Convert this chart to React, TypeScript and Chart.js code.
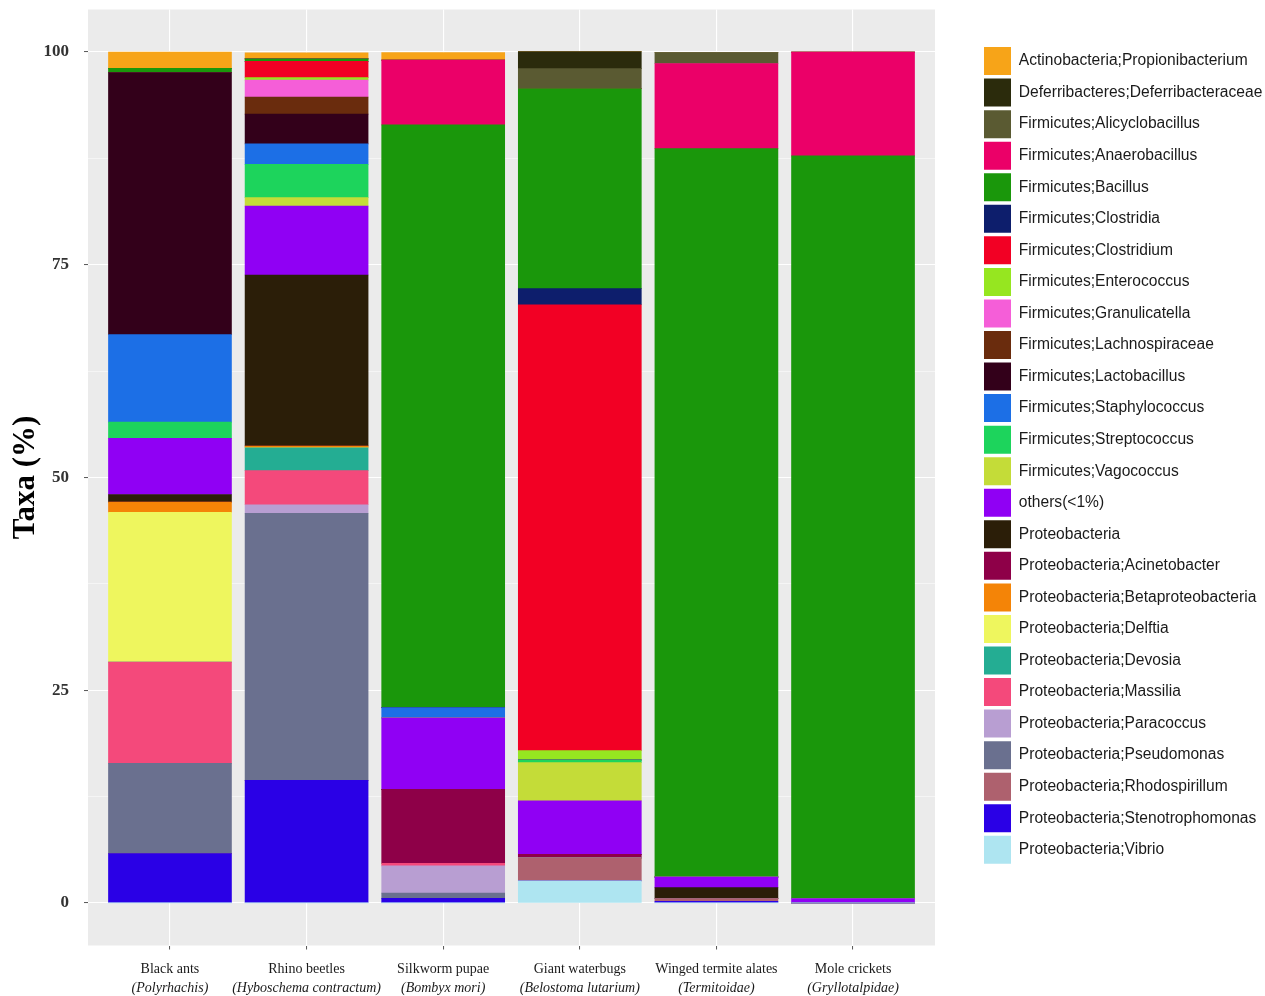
import React, { useEffect, useRef } from 'react';
import { Chart, registerables } from 'chart.js';

Chart.register(...registerables);

// ---------- data ----------
const categories = ['Black ants', 'Rhino beetles', 'Silkworm pupae', 'Giant waterbugs', 'Winged termite alates', 'Mole crickets'];
const categorySubtitles = ['(Polyrhachis)', '(Hyboschema contractum)', '(Bombyx mori)', '(Belostoma lutarium)', '(Termitoidae)', '(Gryllotalpidae)'];
const yMajorTicks = [0, 25, 50, 75, 100];
const yMinorTicks = [12.5, 37.5, 62.5, 87.5];

// legend order (top to bottom)
const taxa = [
  'Actinobacteria;Propionibacterium',
  'Deferribacteres;Deferribacteraceae',
  'Firmicutes;Alicyclobacillus',
  'Firmicutes;Anaerobacillus',
  'Firmicutes;Bacillus',
  'Firmicutes;Clostridia',
  'Firmicutes;Clostridium',
  'Firmicutes;Enterococcus',
  'Firmicutes;Granulicatella',
  'Firmicutes;Lachnospiraceae',
  'Firmicutes;Lactobacillus',
  'Firmicutes;Staphylococcus',
  'Firmicutes;Streptococcus',
  'Firmicutes;Vagococcus',
  'others(<1%)',
  'Proteobacteria',
  'Proteobacteria;Acinetobacter',
  'Proteobacteria;Betaproteobacteria',
  'Proteobacteria;Delftia',
  'Proteobacteria;Devosia',
  'Proteobacteria;Massilia',
  'Proteobacteria;Paracoccus',
  'Proteobacteria;Pseudomonas',
  'Proteobacteria;Rhodospirillum',
  'Proteobacteria;Stenotrophomonas',
  'Proteobacteria;Vibrio',
];

const taxaColors = [
  '#F7A418', '#2B2B0C', '#5A5A32', '#EB0068', '#1A970B', '#0D1E6C', '#F20024', '#96E620',
  '#F55ED8', '#6A2C0D', '#33001A', '#1C6FE6', '#1DD45C', '#C4DC38', '#9000F4', '#2B1E08',
  '#8E0048', '#F48407', '#EEF65E', '#24AD93', '#F4497B', '#B89ED2', '#6A708F', '#AE616E',
  '#2A00E6', '#AEE5F1',
];

// values per category: Black ants, Rhino beetles, Silkworm pupae, Giant waterbugs, Winged termite alates, Mole crickets
const propionibacterium = [1.9, 0.7, 0.9, 0, 0, 0];
const deferribacteraceae = [0, 0, 0, 2.0, 0, 0];
const alicyclobacillus = [0, 0, 0, 2.35, 1.3, 0];
const anaerobacillus = [0, 0, 7.6, 0, 10.0, 12.2];
const bacillus = [0.5, 0.3, 68.5, 23.5, 85.6, 87.3];
const clostridia = [0, 0, 0, 1.9, 0, 0];
const clostridium = [0, 1.9, 0, 52.4, 0, 0];
const enterococcus = [0, 0.3, 0, 1.1, 0, 0];
const granulicatella = [0, 2.0, 0, 0, 0, 0];
const lachnospiraceae = [0, 2.0, 0, 0, 0, 0];
const lactobacillus = [30.8, 3.5, 0, 0, 0, 0];
const staphylococcus = [10.3, 2.4, 1.2, 0, 0, 0];
const streptococcus = [1.9, 3.9, 0, 0.3, 0, 0];
const vagococcus = [0, 1.0, 0, 4.5, 0, 0];
const others = [6.6, 8.1, 8.4, 6.3, 1.25, 0.5];
const proteobacteria = [0.9, 20.1, 0, 0, 1.3, 0];
const acinetobacter = [0, 0, 8.7, 0.4, 0, 0];
const betaproteobacteria = [1.2, 0.2, 0, 0, 0, 0];
const delftia = [17.6, 0, 0, 0, 0, 0];
const devosia = [0, 2.7, 0, 0, 0, 0];
const massilia = [11.9, 4.0, 0.3, 0, 0, 0];
const paracoccus = [0, 1.0, 3.2, 0, 0, 0];
const pseudomonas = [10.6, 31.4, 0.6, 0, 0, 0];
const rhodospirillum = [0, 0, 0, 2.7, 0.3, 0];
const stenotrophomonas = [5.8, 14.4, 0.55, 0, 0.2, 0];
const vibrio = [0, 0, 0, 2.6, 0, 0];

const seriesValues = [
  propionibacterium, deferribacteraceae, alicyclobacillus, anaerobacillus, bacillus, clostridia,
  clostridium, enterococcus, granulicatella, lachnospiraceae, lactobacillus, staphylococcus,
  streptococcus, vagococcus, others, proteobacteria, acinetobacter, betaproteobacteria, delftia,
  devosia, massilia, paracoccus, pseudomonas, rhodospirillum, stenotrophomonas, vibrio,
];

// ---------- layout constants ----------
const W = 1265;
const H = 996;
const LEGEND_W = 284.55;

const panelBg = {
  id: 'panelBg',
  beforeDraw(chart: any) {
    const { ctx, chartArea } = chart;
    ctx.save();
    ctx.fillStyle = '#EBEBEB';
    ctx.fillRect(chartArea.left, chartArea.top, chartArea.right - chartArea.left, chartArea.bottom - chartArea.top);
    ctx.restore();
  },
};

const legendWidth = {
  id: 'legendWidth',
  beforeLayout(chart: any) {
    const lg = chart.legend;
    if (lg && !lg.__patched) {
      const orig = lg.fit.bind(lg);
      lg.fit = function () {
        orig();
        lg.width = LEGEND_W;
      };
      lg.__patched = true;
    }
  },
};

const xLabels = {
  id: 'xLabels',
  afterDraw(chart: any) {
    const { ctx } = chart;
    const xs = chart.scales.x;
    ctx.save();
    ctx.fillStyle = '#1a1a1a';
    ctx.textAlign = 'center';
    ctx.textBaseline = 'middle';
    categories.forEach((c, i) => {
      const x = xs.getPixelForValue(i + 1);
      ctx.font = '14px "Liberation Serif"';
      ctx.fillText(c, x, xs.top + 24);
      ctx.font = 'italic 14px "Liberation Serif"';
      ctx.fillText(categorySubtitles[i], x, xs.top + 43);
    });
    ctx.restore();
  },
};

export default function App() {
  const ref = useRef<HTMLCanvasElement | null>(null);

  useEffect(() => {
    if (!ref.current) return;
    const datasets = taxa
      .map((name, i) => ({
        label: name,
        data: seriesValues[i].map((v, j) => ({ x: j + 1, y: v })),
        backgroundColor: taxaColors[i],
        borderWidth: 0,
        barThickness: 123,
      }))
      .reverse();

    const chart = new Chart(ref.current, {
      type: 'bar',
      data: { datasets },
      plugins: [panelBg, legendWidth, xLabels],
      options: {
        animation: false,
        responsive: true,
        maintainAspectRatio: false,
        layout: { padding: { top: 9.5, bottom: 0, left: 0, right: 0 } },
        scales: {
          x: {
            type: 'linear',
            min: 0.4,
            max: 6.6,
            offset: false,
            stacked: true,
            afterBuildTicks: (s: any) => {
              s.ticks = categories.map((_, i) => ({ value: i + 1 }));
            },
            afterFit: (s: any) => {
              s.height = 50.5;
              s.paddingLeft = 0;
              s.paddingRight = 0;
            },
            grid: { offset: false, color: '#FFFFFF', lineWidth: 1.1, tickColor: '#555555', tickLength: 4, tickWidth: 1 },
            border: { display: false },
            ticks: { display: false },
          },
          y: {
            type: 'linear',
            position: 'left',
            min: -5,
            max: 105,
            stacked: true,
            afterBuildTicks: (s: any) => {
              s.ticks = [...yMajorTicks, ...yMinorTicks].sort((a, b) => a - b).map((v) => ({ value: v }));
            },
            afterFit: (s: any) => {
              s.width = 88;
              s.paddingTop = 0;
              s.paddingBottom = 0;
            },
            grid: {
              color: '#FFFFFF',
              lineWidth: (c: any) => (yMajorTicks.includes(c.tick?.value) ? 1.1 : 0.5),
              tickColor: (c: any) => (yMajorTicks.includes(c.tick?.value) ? '#555555' : 'rgba(0,0,0,0)'),
              tickLength: 4,
              tickWidth: 1,
            },
            border: { display: false },
            ticks: {
              callback: (v: any) => (yMajorTicks.includes(Number(v)) ? String(v) : ''),
              font: { family: 'Liberation Serif', size: 17, weight: 'bold' },
              color: '#333333',
              padding: 15,
            },
            title: {
              display: true,
              text: 'Taxa (%)',
              font: { family: 'Liberation Serif', size: 31, weight: 'bold' },
              color: '#000000',
              padding: { top: 7, bottom: 0 },
            },
          },
          yRight: {
            type: 'linear',
            position: 'right',
            min: 0,
            max: 1,
            display: true,
            afterFit: (s: any) => {
              s.width = 45.45;
              s.paddingTop = 0;
              s.paddingBottom = 0;
            },
            grid: { display: false },
            border: { display: false },
            ticks: { display: false },
          },
        },
        plugins: {
          tooltip: { enabled: false },
          legend: {
            position: 'right',
            align: 'start',
            reverse: true,
            title: { display: true, text: ' ', font: { size: 10 }, padding: { top: 0, bottom: 22 } },
            labels: {
              boxWidth: 27,
              boxHeight: 28,
              padding: 3.55,
              font: { family: 'Liberation Sans', size: 15.6 },
              color: '#1a1a1a',
            },
          },
        },
      } as any,
    });
    return () => chart.destroy();
  }, []);

  return (
    <div style={{ position: 'fixed', left: 0, top: 0, width: W, height: H, background: '#FFFFFF' }}>
      <canvas ref={ref} />
    </div>
  );
}
